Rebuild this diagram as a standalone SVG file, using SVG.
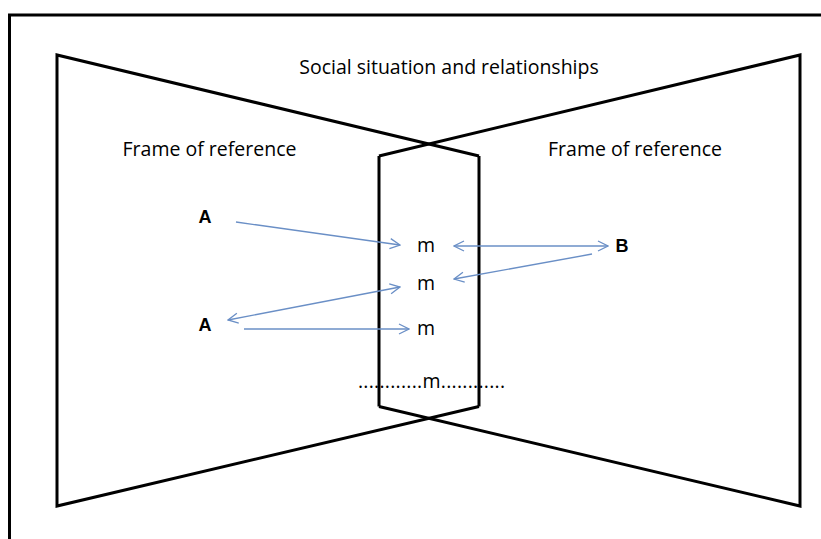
<svg xmlns="http://www.w3.org/2000/svg" width="821" height="539" viewBox="0 0 821 539">
<defs>
<style>
.frame{fill:none;stroke:#000;stroke-width:3;stroke-linejoin:miter}
.lbl{font-family:"Open Sans","Liberation Sans",sans-serif;font-size:19.5px;fill:#000}
.bold{font-family:"Liberation Sans","Open Sans",sans-serif;font-size:18px;font-weight:bold;fill:#000}
.conn{fill:none;stroke:#6a8fc6;stroke-width:1.3}
</style>
<marker id="ah" viewBox="0 0 12 12" refX="11" refY="6" markerWidth="12" markerHeight="12" markerUnits="userSpaceOnUse" orient="auto-start-reverse">
<path d="M1,1 L11,6 L1,11" fill="none" stroke="#6a8fc6" stroke-width="1.3"/>
</marker>
</defs>
<rect width="821" height="539" fill="#fff"/>
<g id="outer">
<path class="frame" d="M9.5,545 L9.5,15 L830,15" stroke-width="2.5"/>
</g>
<g id="left-frame">
<path class="frame" d="M479,156 L57,55 L57,506 L479,406.5"/>
</g>
<g id="right-frame">
<path class="frame" d="M379,156 L800,55 L800,506 L379,406.5"/>
</g>
<g id="middle">
<path class="frame" d="M379,156 L379,406.5 M479,156 L479,406.5"/>
</g>
<g id="title"><text class="lbl" x="449" y="74" text-anchor="middle">Social situation and relationships</text></g>
<g id="frame-left-label"><text class="lbl" x="209.5" y="156" text-anchor="middle">Frame of reference</text></g>
<g id="frame-right-label"><text class="lbl" x="635" y="156" text-anchor="middle">Frame of reference</text></g>
<g id="A1"><text class="bold" x="205" y="223" text-anchor="middle">A</text></g>
<g id="A2"><text class="bold" x="205" y="331" text-anchor="middle">A</text></g>
<g id="B"><text class="bold" x="622" y="252" text-anchor="middle">B</text></g>
<g id="m1"><text class="lbl" x="426" y="252" text-anchor="middle">m</text></g>
<g id="m2"><text class="lbl" x="426" y="290" text-anchor="middle">m</text></g>
<g id="m3"><text class="lbl" x="426" y="335" text-anchor="middle">m</text></g>
<g id="m4"><text class="lbl" x="358" y="388" textLength="147" lengthAdjust="spacing">............m............</text></g>
<g id="connectors">
<line class="conn" x1="236" y1="222" x2="400" y2="245" marker-end="url(#ah)"/>
<line class="conn" x1="454" y1="246" x2="608" y2="246" marker-start="url(#ah)" marker-end="url(#ah)"/>
<line class="conn" x1="592" y1="254" x2="454" y2="279" marker-end="url(#ah)"/>
<line class="conn" x1="228" y1="320" x2="400" y2="287" marker-start="url(#ah)" marker-end="url(#ah)"/>
<line class="conn" x1="244" y1="329" x2="409" y2="329" marker-end="url(#ah)"/>
</g>
</svg>
